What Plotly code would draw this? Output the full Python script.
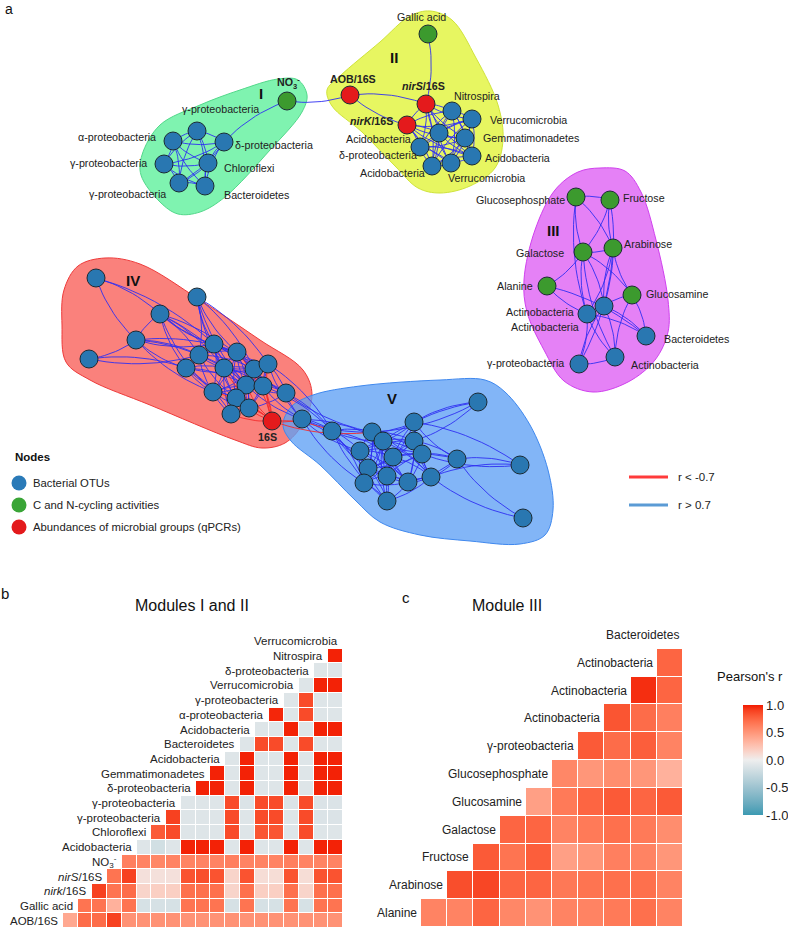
import numpy as np
import plotly.graph_objects as go

W, H = 788, 930
FONT = "Liberation Sans, Arial, sans-serif"

# ---------------------------------------------------------------- network data
# node id, layout coordinates (Cytoscape layout units), kind, label
node_id = ["I0", "I1", "I2", "I3", "I4", "I5", "I6", "NO3",
           "AOB", "nirS", "nirK", "Gallic", "II0", "II1", "II2", "II3", "II4", "II5", "II6", "II7",
           "G6P", "Fru", "Ara", "Gal", "Ala", "GlcN", "A1", "A2", "B3", "G3", "A3",
           "P0", "P1", "P2", "P3", "P4", "P5", "P6", "P7", "P8", "P9", "P10", "P11", "P12", "P13",
           "P14", "P15", "P16", "P17", "P18", "S16",
           "Q0", "Q1", "Q2", "Q3", "Q4", "Q5", "Q6", "Q7", "Q8", "Q9", "Q10", "Q11", "Q12", "Q13",
           "Q14", "Q15", "Q16", "Q17", "Q18"]
node_x = [197, 173, 224, 164, 208, 179, 205, 287,
          350, 426, 407, 428, 452, 472, 439, 465, 420, 472, 432, 451,
          576, 610, 613, 583, 547, 632, 604, 587, 646, 579, 615,
          96, 197, 160, 136, 89, 214, 199, 237, 186, 224, 254, 268, 213, 246,
          263, 286, 236, 249, 231, 272,
          302, 332, 372, 383, 414, 414, 360, 422, 393, 368, 387, 364, 408, 431,
          387, 457, 520, 523, 478]
node_y = [131, 141, 142, 164, 163, 183, 186, 101,
          95, 104, 125, 34, 111, 119, 133, 138, 147, 156, 166, 163,
          197, 200, 248, 252, 286, 295, 306, 314, 336, 364, 357,
          278, 297, 314, 340, 359, 344, 355, 352, 368, 368, 369, 364, 392, 385,
          386, 393, 398, 408, 414, 421,
          419, 431, 432, 441, 422, 441, 451, 454, 457, 468, 476, 483, 482, 477,
          501, 459, 465, 518, 402]
node_kind = ["otu"] * 7 + ["act"] + ["qpcr"] * 3 + ["act"] + ["otu"] * 8 + \
            ["act"] * 6 + ["otu"] * 5 + ["otu"] * 19 + ["qpcr"] + ["otu"] * 19
node_label = {
    "I0": "γ-proteobacteria", "I1": "α-proteobacteria", "I2": "δ-proteobacteria",
    "I3": "γ-proteobacteria", "I4": "Chloroflexi", "I5": "γ-proteobacteria",
    "I6": "Bacteroidetes", "NO3": "<b>NO<sub>3</sub><sup>-</sup></b>",
    "AOB": "<b>AOB/16S</b>", "nirS": "<b><i>nirS</i>/16S</b>", "nirK": "<b><i>nirK</i>/16S</b>",
    "Gallic": "Gallic acid", "II0": "Nitrospira", "II1": "Verrucomicrobia",
    "II2": "Acidobacteria", "II3": "Gemmatimonadetes", "II4": "δ-proteobacteria",
    "II5": "Acidobacteria", "II6": "Acidobacteria", "II7": "Verrucomicrobia",
    "G6P": "Glucosephosphate", "Fru": "Fructose", "Ara": "Arabinose", "Gal": "Galactose",
    "Ala": "Alanine", "GlcN": "Glucosamine", "A1": "Actinobacteria", "A2": "Actinobacteria",
    "B3": "Bacteroidetes", "G3": "γ-proteobacteria", "A3": "Actinobacteria",
    "S16": "<b>16S</b>",
}

# positive correlations (r > 0.7)
pos_adj = {
    "I0": "I1 I2 I3 I4 I5 I6", "I1": "I2 I3 I4 I5 I6", "I2": "I3 I4 I5 I6 NO3",
    "I3": "I4 I5 I6", "I4": "I5 I6", "I5": "I6", "NO3": "AOB",
    "AOB": "nirS nirK", "Gallic": "nirS",
    "nirS": "nirK II0 II1 II2 II3 II4 II5 II6 II7",
    "nirK": "II0 II1 II2 II3 II4 II5 II6 II7",
    "II0": "II1 II2 II3 II4 II5 II6 II7", "II1": "II2 II3 II4 II5 II6 II7",
    "II2": "II3 II4 II5 II6 II7", "II3": "II4 II5 II6 II7", "II4": "II5 II6 II7",
    "II5": "II6 II7", "II6": "II7",
    "G6P": "Fru Gal Ara A2", "Fru": "Gal Ara A1", "Gal": "Ara Ala A2 GlcN A3 A1",
    "Ara": "A1 A2 GlcN G3", "Ala": "A2 B3", "GlcN": "A1 B3 A3", "A1": "A3 G3 B3 A2",
    "A2": "B3 A3 G3", "G3": "A3",
    "P0": "P2 P3 P5", "P4": "P3 P8 P6", "P3": "P2 P8 P6 P5 P9 P12 P7",
    "P2": "P5 P6 P8 P9 P7 P10 P12 P13", "P1": "P5 P6 P9 P10 P7 P11 P13",
    "P5": "P6 P7 P8 P9 P10 P11 P12 P13 P14 P16", "P6": "P8 P9 P10 P12 P13 P16 P7",
    "P7": "P9 P10 P11 P12 P13 P14 P16 P17 P15", "P8": "P9 P12 P13 P16 P18 P10",
    "P9": "P10 P11 P12 P13 P14 P16 P17 P18 P15", "P10": "P11 P12 P13 P14 P15 P16 P17",
    "P11": "P13 P14 P15 P16 P17 Q0 Q1", "P12": "P13 P16 P18 P14 P17",
    "P13": "P14 P15 P16 P17 P18 Q0", "P14": "P15 P16 P17 Q0 Q1", "P15": "Q0 Q1 Q2 P17",
    "P16": "P17 P18", "P17": "P18",
    "Q0": "Q1 Q2 Q3 Q6 Q9 Q11", "Q1": "Q2 Q3 Q6 Q9 Q11 Q14 Q8 Q10",
    "Q2": "Q3 Q4 Q5 Q6 Q7 Q8 Q9 Q10 Q11 Q12 Q13",
    "Q3": "Q4 Q5 Q6 Q7 Q8 Q9 Q10 Q11 Q12 Q13 Q14",
    "Q4": "Q5 Q7 Q8 Q10 Q12 Q13 Q18 Q15 Q16", "Q5": "Q6 Q7 Q8 Q9 Q10 Q12 Q13 Q15 Q18",
    "Q6": "Q8 Q9 Q10 Q11 Q12 Q14 Q7", "Q7": "Q8 Q9 Q10 Q12 Q13 Q15 Q16",
    "Q8": "Q9 Q10 Q11 Q12 Q13 Q14 Q15", "Q9": "Q10 Q11 Q12 Q14", "Q10": "Q11 Q12 Q13 Q14",
    "Q11": "Q12 Q14", "Q12": "Q13 Q14 Q15", "Q13": "Q14 Q15 Q16 Q17", "Q15": "Q16 Q17",
    "Q18": "Q2 Q3",
}
# negative correlations (r < -0.7)
neg_adj = {"S16": "P7 P9 P10 P11 P12 P13 P14 P16 P17 P18 Q0 Q1 Q2"}

# module hulls (layout units)
hull_I = [(278, 79), (298, 80), (307, 95), (302, 112), (270, 150), (225, 197), (200, 212),
          (178, 214), (160, 202), (141, 175), (142, 155), (160, 125), (200, 105), (240, 90)]
hull_II = [(430, 11), (452, 20), (476, 58), (498, 105), (503, 140), (495, 168), (470, 186),
           (440, 193), (418, 188), (395, 166), (362, 132), (332, 106), (327, 90), (340, 76),
           (380, 42), (410, 16)]
hull_III = [(600, 168), (625, 171), (641, 192), (656, 240), (668, 300), (668, 332), (655, 360),
            (628, 382), (593, 392), (564, 381), (544, 350), (527, 312), (524, 280), (535, 230),
            (555, 190), (578, 172)]
hull_IV = [(64, 290), (78, 266), (105, 258), (140, 264), (200, 300), (260, 340), (303, 370),
           (312, 395), (302, 425), (285, 443), (262, 448), (235, 440), (150, 405), (90, 380),
           (66, 362), (62, 325)]
hull_V = [(283, 425), (291, 407), (313, 395), (360, 386), (440, 380), (485, 380), (505, 392),
          (530, 425), (548, 470), (553, 510), (545, 535), (520, 544), (470, 541), (420, 535),
          (380, 522), (355, 500), (320, 465), (291, 441)]
module_names = ["I", "II", "III", "IV", "V"]
module_name_pos = [(261, 93), (394, 57), (553, 230), (133, 280), (392, 398)]

# ---------------------------------------------------------------- heatmap data
labels_b = ["AOB/16S", "Gallic acid", "<i>nirk</i>/16S", "<i>nirS</i>/16S",
            "NO<sub>3</sub><sup>-</sup>", "Acidobacteria", "Chloroflexi", "γ-proteobacteria",
            "γ-proteobacteria", "δ-proteobacteria", "Gemmatimonadetes", "Acidobacteria",
            "Bacteroidetes", "Acidobacteria", "α-proteobacteria", "γ-proteobacteria",
            "Verrucomicrobia", "δ-proteobacteria", "Nitrospira", "Verrucomicrobia"]
r_b = [
    [0.40, 0.72, 0.72, 0.90, 0.52, 0.52, 0.52, 0.52, 0.52, 0.52, 0.52, 0.52, 0.52, 0.52, 0.52, 0.52, 0.52, 0.52, 0.52],
    [0.68, 0.68, 0.35, 0.68, -0.15, -0.15, -0.15, 0.68, 0.68, 0.68, -0.15, 0.68, -0.15, -0.15, 0.68, -0.15, 0.68, 0.68],
    [0.90, 0.68, 0.72, 0.15, 0.18, 0.18, 0.70, 0.70, 0.70, 0.15, 0.70, 0.18, 0.18, 0.70, 0.15, 0.70, 0.70],
    [0.68, 0.90, 0.08, 0.08, 0.08, 0.83, 0.85, 0.83, 0.15, 0.83, 0.10, 0.10, 0.83, 0.10, 0.83, 0.83],
    [0.62, 0.60, 0.58, 0.60, 0.60, 0.60, 0.60, 0.62, 0.60, 0.60, 0.60, 0.62, 0.60, 0.60, 0.60],
    [-0.10, -0.18, -0.10, 0.98, 0.98, 0.98, -0.10, 0.98, -0.10, -0.10, 0.98, -0.10, 0.98, 0.98],
    [0.80, 0.86, -0.10, -0.10, -0.10, 0.86, -0.10, 0.82, 0.82, -0.10, 0.86, -0.10, -0.10],
    [0.90, -0.10, -0.10, -0.10, 0.86, -0.10, 0.86, 0.86, -0.10, 0.86, -0.12, -0.12],
    [-0.10, -0.10, -0.10, 0.86, -0.12, 0.86, 0.86, -0.12, 0.86, -0.12, -0.12],
    [0.98, 0.98, -0.10, 0.98, -0.10, -0.10, 0.98, -0.10, 0.98, 0.98],
    [0.98, -0.10, 0.98, -0.10, -0.10, 0.98, -0.10, 0.98, 0.98],
    [-0.10, 0.98, -0.10, -0.10, 0.98, -0.10, 0.98, 0.98],
    [-0.10, 0.86, 0.86, -0.10, 0.86, -0.10, -0.10],
    [-0.10, -0.10, 0.98, -0.10, 0.98, 0.98],
    [0.97, -0.10, 0.86, -0.10, -0.10],
    [-0.10, 0.86, -0.10, -0.10],
    [-0.10, 0.98, 0.98],
    [-0.10, -0.10],
    [0.98],
]
labels_c = ["Alanine", "Arabinose", "Fructose", "Galactose", "Glucosamine", "Glucosephosphate",
            "γ-proteobacteria", "Actinobacteria", "Actinobacteria", "Actinobacteria", "Bacteroidetes"]
r_c = [
    [0.60, 0.60, 0.75, 0.58, 0.52, 0.60, 0.60, 0.65, 0.70, 0.60],
    [0.85, 0.88, 0.75, 0.75, 0.66, 0.68, 0.70, 0.70, 0.60],
    [0.80, 0.68, 0.78, 0.45, 0.50, 0.62, 0.60, 0.50],
    [0.75, 0.75, 0.60, 0.65, 0.70, 0.65, 0.55],
    [0.45, 0.65, 0.75, 0.80, 0.75, 0.80],
    [0.58, 0.50, 0.55, 0.50, 0.35],
    [0.80, 0.72, 0.78, 0.60],
    [0.82, 0.72, 0.62],
    [0.95, 0.75],
    [0.75],
]
cbar_ticks = [-1.0, -0.5, 0.0, 0.5, 1.0]

# ---------------------------------------------------------------- styles
kind_color = {"otu": "#2977B1", "act": "#3C9A2E", "qpcr": "#E41A1C"}
legend_color = {"otu": "#2A7AB8", "act": "#3AA537", "qpcr": "#E31A1C"}
# label placement: (dx, dy, anchor)
label_place = {
    "I0": (23, -22, "center"), "I1": (-15, -4, "right"), "I2": (9, 3, "left"),
    "I3": (-15, -1, "right"), "I4": (14, 5, "left"), "I5": (-11, 11, "right"),
    "I6": (17, 9, "left"), "NO3": (1, -18, "center"), "AOB": (3, -16, "center"),
    "nirS": (-3, -18, "center"), "nirK": (-12, -4, "right"), "Gallic": (-7, -17, "center"),
    "II0": (0, -15, "left"), "II1": (16, 1, "left"), "II2": (-26, 6, "right"),
    "II3": (16, 0, "left"), "II4": (-1, 8, "right"), "II5": (11, 2, "left"),
    "II6": (-5, 7, "right"), "II7": (-5, 15, "left"), "G6P": (-9, 3, "right"),
    "Fru": (11, -2, "left"), "Ara": (9, -4, "left"), "Gal": (-17, 1, "right"),
    "Ala": (-12, 0, "right"), "GlcN": (12, -1, "left"), "A1": (-23, 21, "right"),
    "A2": (-11, -2, "right"), "B3": (16, 3, "left"), "G3": (-13, -1, "right"),
    "A3": (14, 8, "left"), "S16": (-5, 16, "center"),
}
hull_style = [("rgba(120,242,172,0.95)", "#52D88A", hull_I),
              ("rgba(230,245,88,0.95)", "#CFE33A", hull_II),
              ("rgba(228,122,246,0.95)", "#D040EE", hull_III),
              ("rgba(250,125,120,0.97)", "#EE3A3A", hull_IV),
              ("rgba(95,160,245,0.78)", "#3F88EE", hull_V)]


# diverging colour scale interpolated in CIE Lab (as ggplot's gradient2 does)
def _hex2rgb(h):
    h = h.lstrip("#")
    return np.array([int(h[i:i + 2], 16) for i in (0, 2, 4)]) / 255.0


def _rgb2lab(c):
    c = np.where(c > 0.04045, ((c + 0.055) / 1.055) ** 2.4, c / 12.92)
    M = np.array([[0.4124, 0.3576, 0.1805], [0.2126, 0.7152, 0.0722], [0.0193, 0.1192, 0.9505]])
    xyz = M @ c / np.array([0.95047, 1.0, 1.08883])
    f = np.where(xyz > 0.008856, np.cbrt(xyz), 7.787 * xyz + 16 / 116)
    return np.array([116 * f[1] - 16, 500 * (f[0] - f[1]), 200 * (f[1] - f[2])])


def _lab2hex(lab):
    fy = (lab[0] + 16) / 116
    fx, fz = fy + lab[1] / 500, fy - lab[2] / 200
    f = np.array([fx, fy, fz])
    xyz = np.where(f ** 3 > 0.008856, f ** 3, (f - 16 / 116) / 7.787) * np.array([0.95047, 1.0, 1.08883])
    Mi = np.array([[3.2406, -1.5372, -0.4986], [-0.9689, 1.8758, 0.0415], [0.0557, -0.2040, 1.0570]])
    c = Mi @ xyz
    c = np.where(c > 0.0031308, 1.055 * np.clip(c, 0, None) ** (1 / 2.4) - 0.055, 12.92 * c)
    c = np.clip(c, 0, 1)
    return "#%02X%02X%02X" % tuple(int(round(v * 255)) for v in c)


low, mid, high = _rgb2lab(_hex2rgb("#3B9AB2")), _rgb2lab(_hex2rgb("#EEEEEE")), _rgb2lab(_hex2rgb("#F21A00"))
cscale = []
for t in np.linspace(0, 1, 21):
    lab = low + (mid - low) * (t / 0.5) if t <= 0.5 else mid + (high - mid) * ((t - 0.5) / 0.5)
    cscale.append([float(t), _lab2hex(lab)])

pos_index = {n: i for i, n in enumerate(node_id)}

fig = go.Figure()

# hulls
for fillc, linec, hull in hull_style:
    hx = [p[0] for p in hull] + [hull[0][0]]
    hy = [p[1] for p in hull] + [hull[0][1]]
    fig.add_trace(go.Scatter(x=hx, y=hy, mode="lines", fill="toself", fillcolor=fillc,
                             line=dict(color=linec, width=1, shape="spline", smoothing=1.0),
                             hoverinfo="skip", showlegend=False, xaxis="x", yaxis="y"))


def edge_paths(adj):
    xs, ys = [], []
    cnt = 0
    for a, targets in adj.items():
        for b in targets.split():
            i, j = pos_index[a], pos_index[b]
            x1, y1, x2, y2 = node_x[i], node_y[i], node_x[j], node_y[j]
            sgn = 1 if cnt % 2 == 0 else -1
            cnt += 1
            k = 0.12 * sgn
            cx = (x1 + x2) / 2 - k * (y2 - y1)
            cy = (y1 + y2) / 2 + k * (x2 - x1)
            t = np.linspace(0, 1, 14)
            bx = (1 - t) ** 2 * x1 + 2 * (1 - t) * t * cx + t ** 2 * x2
            by = (1 - t) ** 2 * y1 + 2 * (1 - t) * t * cy + t ** 2 * y2
            xs += list(bx) + [None]
            ys += list(by) + [None]
    return xs, ys


ex, ey = edge_paths(pos_adj)
fig.add_trace(go.Scatter(x=ex, y=ey, mode="lines", line=dict(color="#2F2FF2", width=0.9),
                         hoverinfo="skip", showlegend=False, xaxis="x", yaxis="y"))
rx, ry = edge_paths(neg_adj)
fig.add_trace(go.Scatter(x=rx, y=ry, mode="lines", line=dict(color="#F42A2A", width=0.9),
                         hoverinfo="skip", showlegend=False, xaxis="x", yaxis="y"))

# nodes
for kind in ["otu", "act", "qpcr"]:
    idx = [i for i, k in enumerate(node_kind) if k == kind]
    fig.add_trace(go.Scatter(x=[node_x[i] for i in idx], y=[node_y[i] for i in idx],
                             mode="markers",
                             marker=dict(size=18, color=kind_color[kind],
                                         line=dict(color="#1B2A33", width=1)),
                             hoverinfo="skip", showlegend=False, xaxis="x", yaxis="y"))

annotations = []
for nid, txt in node_label.items():
    i = pos_index[nid]
    dx, dy, anc = label_place[nid]
    annotations.append(dict(x=node_x[i] + dx, y=node_y[i] + dy, xref="x", yref="y",
                            text=txt, showarrow=False, xanchor=anc, yanchor="middle",
                            font=dict(family=FONT, size=10.7, color="#222222")))
for name, (mx, my) in zip(module_names, module_name_pos):
    annotations.append(dict(x=mx, y=my, xref="x", yref="y", text="<b>%s</b>" % name,
                            showarrow=False, xanchor="center", yanchor="middle",
                            font=dict(family=FONT, size=15, color="#111111")))

# node legend
annotations.append(dict(x=13, y=457, xref="x", yref="y", text="<b>Nodes</b>", showarrow=False,
                        xanchor="left", yanchor="middle",
                        font=dict(family=FONT, size=11.5, color="#111111")))
legend_items = [("otu", "Bacterial OTUs"), ("act", "C and N-cycling activities"),
                ("qpcr", "Abundances of microbial groups (qPCRs)")]
for n, (kind, txt) in enumerate(legend_items):
    yy = 483 + 22 * n
    fig.add_trace(go.Scatter(x=[19], y=[yy], mode="markers",
                             marker=dict(size=15, color=legend_color[kind]),
                             hoverinfo="skip", showlegend=False, xaxis="x", yaxis="y"))
    annotations.append(dict(x=31, y=yy, xref="x", yref="y", text=txt, showarrow=False,
                            xanchor="left", yanchor="middle",
                            font=dict(family=FONT, size=11.3, color="#222222")))
# edge legend
for n, (col, txt) in enumerate([("#FF3B3B", "r < -0.7"), ("#5B9BD5", "r > 0.7")]):
    yy = 477 + 28 * n
    fig.add_trace(go.Scatter(x=[629, 668], y=[yy, yy], mode="lines",
                             line=dict(color=col, width=3),
                             hoverinfo="skip", showlegend=False, xaxis="x", yaxis="y"))
    annotations.append(dict(x=676, y=yy, xref="x", yref="y", text=txt, showarrow=False,
                            xanchor="left", yanchor="middle",
                            font=dict(family=FONT, size=11.5, color="#222222")))

# ---------------------------------------------------------------- heatmap b
nb_rows, nb_cols = len(labels_b), len(r_b)
zb = [[None] * nb_cols for _ in range(nb_rows)]
for k, row in enumerate(r_b):
    for j, v in enumerate(row):
        zb[k][k + j] = v
fig.add_trace(go.Heatmap(z=zb, x=list(range(nb_cols)), y=list(range(nb_rows)),
                         coloraxis="coloraxis", xgap=1, ygap=1, hoverongaps=False,
                         xaxis="x2", yaxis="y2"))
for k, lab in enumerate(labels_b):
    annotations.append(dict(x=k - 0.5, y=k, xref="x2", yref="y2", text=lab, showarrow=False,
                            xanchor="right", yanchor="middle", xshift=-3,
                            font=dict(family=FONT, size=11.5, color="#222222")))

# ---------------------------------------------------------------- heatmap c
nc_rows, nc_cols = len(labels_c), len(r_c)
zc = [[None] * nc_cols for _ in range(nc_rows)]
for k, row in enumerate(r_c):
    for j, v in enumerate(row):
        zc[k][k + j] = v
fig.add_trace(go.Heatmap(z=zc, x=list(range(nc_cols)), y=list(range(nc_rows)),
                         coloraxis="coloraxis", xgap=1, ygap=1, hoverongaps=False,
                         xaxis="x3", yaxis="y3"))
for k, lab in enumerate(labels_c):
    annotations.append(dict(x=k - 0.5, y=k, xref="x3", yref="y3", text=lab, showarrow=False,
                            xanchor="right", yanchor="middle", xshift=-2,
                            font=dict(family=FONT, size=12, color="#222222")))


def px(x, y):
    return x / W, 1 - y / H


def paper_text(x, y, txt, size, anchor="center"):
    pxx, pyy = px(x, y)
    return dict(x=pxx, y=pyy, xref="paper", yref="paper", text=txt, showarrow=False,
                xanchor=anchor, yanchor="middle", font=dict(family=FONT, size=size, color="#111111"))


annotations += [paper_text(9, 9, "a", 14), paper_text(5, 593, "b", 15),
                paper_text(406, 597, "c", 15),
                paper_text(192, 605, "Modules I and II", 16),
                paper_text(507, 605, "Module III", 16),
                paper_text(750, 676, "Pearson's r", 13)]

fig.update_layout(
    width=W, height=H, margin=dict(l=0, r=0, t=0, b=0),
    paper_bgcolor="white", plot_bgcolor="rgba(0,0,0,0)", showlegend=False,
    font=dict(family=FONT),
    xaxis=dict(domain=[0, 1], range=[0, W], visible=False, fixedrange=True),
    yaxis=dict(domain=[1 - 590 / H, 1], range=[590, 0], visible=False, fixedrange=True),
    xaxis2=dict(domain=[63 / W, 343 / W], range=[-0.5, nb_cols - 0.5], visible=False, anchor="y2"),
    yaxis2=dict(domain=[1 - 928 / H, 1 - 634 / H], range=[-0.5, nb_rows - 0.5], visible=False,
                anchor="x2"),
    xaxis3=dict(domain=[421 / W, 683 / W], range=[-0.5, nc_cols - 0.5], visible=False, anchor="y3"),
    yaxis3=dict(domain=[1 - 927 / H, 1 - 621 / H], range=[-0.5, nc_rows - 0.5], visible=False,
                anchor="x3"),
    coloraxis=dict(cmin=-1, cmax=1, colorscale=cscale,
                   colorbar=dict(x=743 / W, xanchor="left", y=1 - 760 / H, yanchor="middle",
                                 len=110 / H, lenmode="fraction", thickness=20,
                                 thicknessmode="pixels", outlinewidth=0, ticks="",
                                 tickvals=cbar_ticks, ticktext=["%.1f" % t for t in cbar_ticks],
                                 tickfont=dict(family=FONT, size=13, color="#222222"),
                                 xpad=0, ypad=0)),
    annotations=annotations,
)

fig.write_html("out.html", config={"displayModeBar": False},
               post_script="document.body.style.margin='0px';")
